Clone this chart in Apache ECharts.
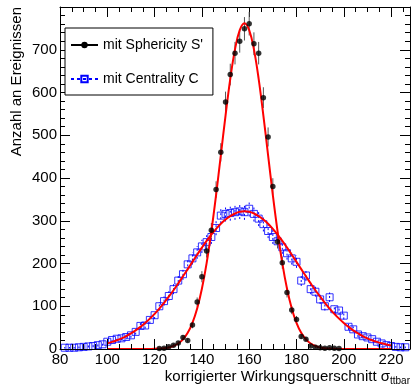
<!DOCTYPE html>
<html><head><meta charset="utf-8">
<script src="https://cdn.jsdelivr.net/npm/echarts@6/dist/echarts.min.js"></script>
<style>html,body{margin:0;padding:0;background:#fff}#c{width:415px;height:386px}</style>
</head><body><div id="c"></div>
<script>
// bin centres (x) for the Centrality histogram
const binX = [82,84,86,88,90,92,94,96,98,100,102,104,106,108,110,112,114,116,118,120,122,124,126,128,130,132,134,136,138,140,142,144,146,148,150,152,154,156,158,160,162,164,166,168,170,172,174,176,178,180,182,184,186,188,190,192,194,196,198,200,202,204,206,208,210,212,214,216,218,220,222,224,226];
const cenVals = [3,3,3,4,5,6,7,9,11,17,21,24,25,28,32,40,54,55,68,79,100,112,124,140,160,175,198,212,226,240,250,262,283,312,316,318,320,322,320,328,316,305,292,276,262,252,238,224,212,204,160,172,140,134,116,100,121,93,90,78,52,46,34,30,27,23,17,13,9,7,5,4,4];
// Sphericity histogram (non-empty bins)
const sphX = [122,124,126,128,130,132,134,136,138,140,142,144,146,148,150,152,154,156,158,160,162,164,166,168,170,172,174,176,178,180,182,184,186,188,190,192,194,196,198];
const sphVals = [1,2,5,9,14,27,20,56,110,169,229,278,373,460,578,642,692,720,749,761,714,692,588,496,380,251,202,132,91,69,29,23,7,4,3,2,3,2,1];
// fit curves
const fitX = [100,102,104,106,108,110,112,114,116,118,120,122,124,126,128,130,132,134,136,138,140,142,144,146,148,150,152,154,156,158,160,162,164,166,168,170,172,174,176,178,180,182,184,186,188,190,192,194,196,198,200,202,204,206,208,210,212,214,216,218,220];
const sphFit = [0,0,0,0,0,0,0,0,0,0.2,0.4,0.9,1.9,3.7,7,12.9,22.6,37.9,61.3,94.9,141,201,275,360,453,546,632,701,746,762,746,701,632,546,453,360,275,201,141,94.9,61.3,37.9,22.6,12.9,7,3.7,1.9,0.9,0.4,0.2,0,0,0,0,0,0,0,0,0,0,0];
const cenFit = [13.4,16.6,20.5,25,30.3,36.5,43.6,51.7,60.8,71,82.2,94.6,108,122.4,137.5,153.5,170,186.9,203.8,220.6,237,252.8,267.5,281,293,303,311,317,321,322,321,317,311,303,293,281,267.5,252.8,237,220.6,203.8,186.9,170,153.5,137.5,122.4,108,94.6,82.2,71,60.8,51.7,43.6,36.5,30.3,25,20.5,16.6,13.4,10.7,8.5];
const xTicks = {min: 80, max: 228, step: 20};
const yTicks = {min: 0, max: 800, step: 100};
const nameS = "mit Sphericity S'";
const nameC = "mit Centrality C";

const FONT = "'Liberation Sans', Arial, Helvetica, sans-serif";
const chart = echarts.init(document.getElementById('c'), null, {renderer: 'canvas'});

const zip = (xs, ys) => xs.map((x, i) => [x, ys[i]]);
const errData = (xs, ys) => xs.map((x, i) => [x, ys[i] - Math.sqrt(ys[i]), ys[i] + Math.sqrt(ys[i])]);
function errRender(color, dash) {
  return function (params, api) {
    const p1 = api.coord([api.value(0), api.value(1)]);
    const p2 = api.coord([api.value(0), api.value(2)]);
    return {type: 'line', shape: {x1: p1[0], y1: p1[1], x2: p2[0], y2: p2[1]},
      style: {stroke: color, lineWidth: 1, lineDash: dash}};
  };
}
function xAxisCfg(pos) {
  const main = pos === 'bottom';
  return {
    type: 'value', position: pos, min: xTicks.min, max: xTicks.max, interval: xTicks.step,
    z: main ? 10 : 3,
    axisLine: {show: true, onZero: false, lineStyle: {color: '#000', width: 1}},
    axisTick: {show: true, inside: true, length: 10, lineStyle: {color: '#000', width: 1}},
    minorTick: {show: true, splitNumber: 4, length: 5, lineStyle: {color: '#000', width: 1}},
    splitLine: {show: false}, minorSplitLine: {show: false},
    axisLabel: {show: main, margin: 3, fontSize: 15, color: '#000', fontFamily: FONT, showMaxLabel: false, showMinLabel: true},
    name: main ? '{a|korrigierter Wirkungsquerschnitt σ}{b|ttbar}' : '',
    nameLocation: 'end', nameGap: 0, nameMoveOverlap: false,
    nameTextStyle: {align: 'right', verticalAlign: 'top', padding: [18, 0, 0, 0], fontFamily: FONT, color: '#000',
      rich: {a: {fontSize: 15, fontFamily: FONT, color: '#000'},
             b: {fontSize: 10, fontFamily: FONT, color: '#000', padding: [9, 0, 0, 0]}}}
  };
}
function yAxisCfg(pos) {
  const main = pos === 'left';
  return {
    type: 'value', position: pos, min: yTicks.min, max: yTicks.max, interval: yTicks.step,
    axisLine: {show: true, onZero: false, lineStyle: {color: '#000', width: 1}},
    axisTick: {show: true, inside: true, length: 10, lineStyle: {color: '#000', width: 1}},
    minorTick: {show: true, splitNumber: 5, length: 5, lineStyle: {color: '#000', width: 1}},
    splitLine: {show: false}, minorSplitLine: {show: false},
    axisLabel: {show: main, margin: 3, fontSize: 15, color: '#000', fontFamily: FONT, showMaxLabel: false, showMinLabel: true},
    name: main ? 'Anzahl an Ereignissen' : '',
    nameLocation: 'end', nameGap: 0, nameRotate: 90, nameMoveOverlap: false,
    nameTextStyle: {align: 'right', verticalAlign: 'bottom', padding: [0, 0, 36, 0], fontSize: 15, fontFamily: FONT, color: '#000'}
  };
}

chart.setOption({
  backgroundColor: '#fff',
  animation: false,
  grid: {left: 60, right: 5, top: 7, bottom: 37, containLabel: false},
  xAxis: [xAxisCfg('bottom'), xAxisCfg('top')],
  yAxis: [yAxisCfg('left'), yAxisCfg('right')],
  legend: {
    left: 65, top: 28, orient: 'vertical',
    backgroundColor: '#fff', borderColor: '#000', borderWidth: 1, borderRadius: 0,
    padding: [10, 10, 9, 5], itemGap: 20, itemWidth: 27, itemHeight: 8,
    textStyle: {fontSize: 14, color: '#000', fontFamily: FONT},
    data: [nameS, nameC]
  },
  series: [
    {type: 'custom', name: 'errC', silent: true, clip: true, z: 2,
     renderItem: errRender('#0000ff', [2, 2]), encode: {x: 0, y: [1, 2]}, data: errData(binX, cenVals)},
    {type: 'scatter', name: 'ptsC', silent: true, z: 3, symbol: 'rect', symbolSize: 7,
     itemStyle: {color: 'rgba(0,0,0,0)', borderColor: '#0000ff', borderWidth: 1}, data: zip(binX, cenVals)},
    {type: 'line', name: 'fitC', silent: true, z: 4, symbol: 'none', smooth: 0.4,
     lineStyle: {color: '#ff0000', width: 2}, data: zip(fitX, cenFit)},
    {type: 'custom', name: 'errS', silent: true, clip: true, z: 5,
     renderItem: errRender('#555', null), encode: {x: 0, y: [1, 2]}, data: errData(sphX, sphVals)},
    {type: 'line', name: 'fitS', silent: true, z: 6, symbol: 'none', smooth: 0.4,
     lineStyle: {color: '#ff0000', width: 2}, data: zip(fitX, sphFit)},
    {type: 'scatter', name: 'ptsS', silent: true, z: 7, symbol: 'circle', symbolSize: 5.5,
     itemStyle: {color: '#000'}, data: zip(sphX, sphVals)},
    {type: 'line', name: nameS, data: [], symbol: 'circle', symbolSize: 6,
     itemStyle: {color: '#000'}, lineStyle: {color: '#000', width: 1}},
    {type: 'line', name: nameC, data: [], symbol: 'rect', symbolSize: 7,
     itemStyle: {color: 'rgba(0,0,0,0)', borderColor: '#0000ff', borderWidth: 1},
     lineStyle: {color: '#0000ff', width: 1, type: [3, 3]}}
  ]
});
</script></body></html>
